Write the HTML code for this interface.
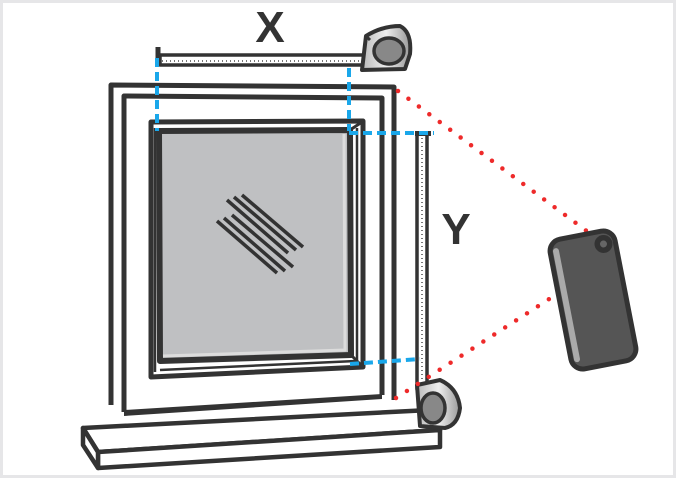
<!DOCTYPE html>
<html><head><style>
html,body{margin:0;padding:0;background:#fff;}
.w{width:676px;height:478px;position:relative;overflow:hidden;}
</style></head><body><div class="w">
<svg width="676" height="478" viewBox="0 0 676 478" xmlns="http://www.w3.org/2000/svg">
<defs>
<linearGradient id="g1" x1="0" y1="0" x2="1" y2="0"><stop offset="0" stop-color="#bbb"/><stop offset="0.5" stop-color="#eee"/><stop offset="1" stop-color="#999"/></linearGradient>
</defs>
<rect x="1.5" y="1.5" width="673" height="475" fill="#fff" stroke="#e6e6e8" stroke-width="3"/>
<g fill="none" stroke="#333" stroke-linejoin="round">
<polyline points="111,405 111,85 394,87 394,400" stroke-width="5" fill="#fff"/>
<polyline points="124,412 124,96 382,98 382,395" stroke-width="5"/>
<polygon points="124,410 382,394 382,399 124,416" fill="#333" stroke="none"/>
<polygon points="83,428 430,410 440,430 98,452" fill="#fff" stroke-width="4.5"/>
<polygon points="98,452 440,430 440,447 98,468" fill="#fff" stroke-width="4.5"/>
<polygon points="83,428 98,452 98,468 83,445" fill="#fff" stroke-width="4.5"/>
<polygon points="151,122 363,121 363,367 151,377" fill="#fff" stroke-width="5"/>
<polygon points="159,131 350,130 351,355 160,361" fill="#bfc0c2" stroke-width="6"/>
<polyline points="344,134 345,350 163,356" stroke="#dcdcdc" stroke-width="3"/>
<line x1="350" y1="130" x2="362" y2="122" stroke-width="3"/>
<line x1="351" y1="355" x2="362" y2="366" stroke-width="3"/>
<line x1="155" y1="128" x2="155" y2="372" stroke-width="2.5"/>
<line x1="357" y1="128" x2="357" y2="362" stroke-width="2.5"/>
<line x1="160" y1="370" x2="356" y2="361" stroke-width="2.5"/>
<g stroke-width="3.5">
<line x1="242" y1="195" x2="303" y2="247"/>
<line x1="234" y1="197" x2="296" y2="250"/>
<line x1="227" y1="200" x2="288" y2="253"/>
<line x1="232" y1="215" x2="293" y2="267"/>
<line x1="224" y1="218" x2="285" y2="271"/>
<line x1="217" y1="221" x2="277" y2="273"/>
</g>
<line x1="158" y1="47" x2="158" y2="66" stroke-width="5"/>
<rect x="160" y="55" width="204" height="10" fill="#fff" stroke-width="3.5"/>
<line x1="162" y1="61" x2="362" y2="61" stroke="#777" stroke-width="2" stroke-dasharray="1 3"/>
<path d="M366,36 Q382,26 400,26 Q412,32 410,54 L405,69 L362,70 Z" fill="url(#g1)" stroke-width="4"/>
<path d="M366,36 L370,40" stroke-width="3"/>
<ellipse cx="389" cy="51" rx="15" ry="13" fill="#888" stroke-width="3.5"/>
<rect x="417" y="134" width="10" height="255" fill="#fff" stroke-width="3.5"/>
<line x1="422" y1="138" x2="422" y2="385" stroke="#777" stroke-width="2" stroke-dasharray="1 3"/>
<rect x="415" y="131" width="16" height="5" fill="#333" stroke="none"/>
<path d="M417,385 L440,380 Q458,388 460,408 Q458,425 445,428 L420,426 Z" fill="url(#g1)" stroke-width="4"/>
<ellipse cx="433" cy="408" rx="12" ry="15" fill="#888" stroke-width="3.5"/>
</g>
<g stroke="#1aa7ea" stroke-width="4" stroke-dasharray="9 5" fill="none">
<line x1="157" y1="58" x2="157" y2="131"/>
<line x1="349" y1="68" x2="349" y2="131"/>
<line x1="349" y1="133" x2="434" y2="133"/>
<line x1="350" y1="364" x2="420" y2="359"/>
</g>
<g stroke="#ee2a2a" stroke-width="4.5" stroke-linecap="round" stroke-dasharray="0 13" fill="none">
<line x1="398" y1="91" x2="588" y2="232"/>
<line x1="396" y1="398" x2="560" y2="292"/>
</g>
<g transform="translate(593,300) rotate(-11)">
<rect x="-33" y="-66" width="66" height="132" rx="12" fill="#555" stroke="#333" stroke-width="5"/>
<rect x="-30" y="-58" width="6" height="116" rx="3" fill="#aaa"/>
<circle cx="21" cy="-53" r="9" fill="#333"/>
<circle cx="21" cy="-53" r="3.5" fill="#666"/>
</g>
<text x="270" y="42" font-family="Liberation Sans, sans-serif" font-weight="bold" font-size="44" text-anchor="middle" fill="#333">X</text>
<text x="456" y="244" font-family="Liberation Sans, sans-serif" font-weight="bold" font-size="44" text-anchor="middle" fill="#333">Y</text>
</svg>
</div></body></html>
